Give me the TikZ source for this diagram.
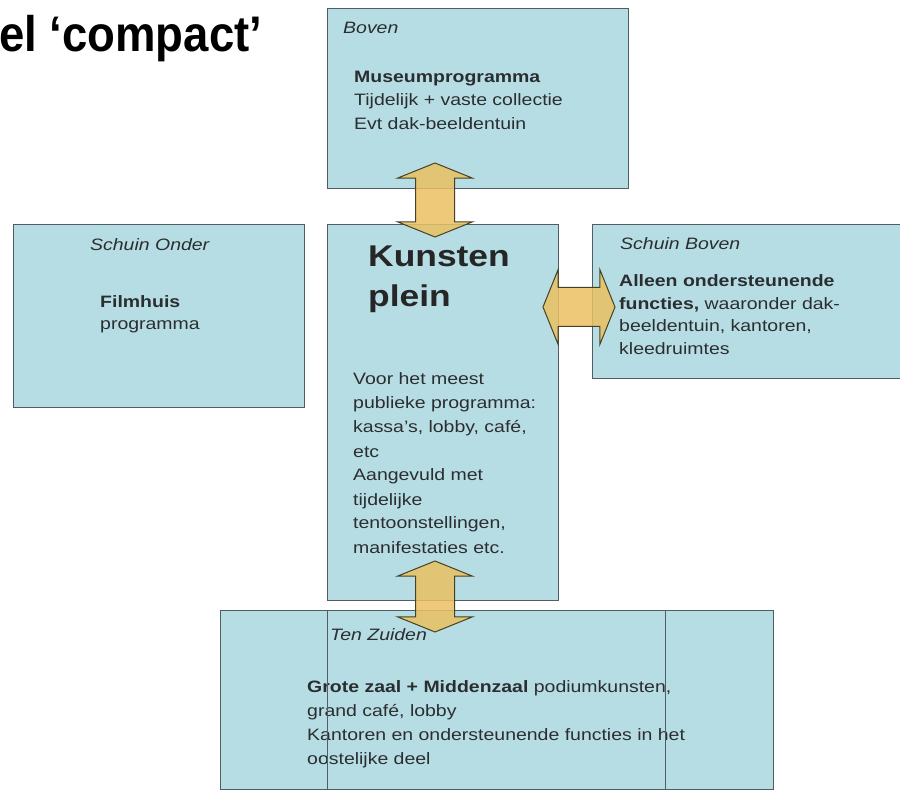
\documentclass[tikz,border=0pt]{standalone}
\usepackage{fontspec}
\usetikzlibrary{shapes.arrows}
\newfontfamily\zonefont[FakeStretch=1.18]{Liberation Sans}
\newfontfamily\titlefont[FakeStretch=0.91]{Liberation Sans}
\definecolor{zonefill}{RGB}{183,221,228}
\definecolor{zoneline}{RGB}{80,94,100}
\definecolor{zoneink}{RGB}{42,46,48}
\definecolor{arrowfill}{RGB}{234,192,98}
\definecolor{arrowline}{RGB}{70,65,35}
\tikzset{
  zone/.style={rectangle, draw=zoneline, line width=1.3pt, fill=zonefill, anchor=north west, inner sep=0pt},
  zonetext/.style={anchor=base west, inner sep=0pt, text=zoneink, font=\zonefont\fontsize{16.5}{20}\selectfont},
  zonelabel/.style={zonetext, font=\zonefont\itshape\fontsize{16.5}{20}\selectfont},
  zonetitle/.style={anchor=base west, inner sep=0pt, text=black!85, font=\zonefont\bfseries\fontsize{30}{36}\selectfont},
  swaparrow/.style={double arrow, draw=arrowline, line width=1pt, fill=arrowfill, fill opacity=0.85,
    minimum height=74pt, inner xsep=0pt, inner ysep=19pt, double arrow head extend=18pt, double arrow tip angle=136}
}

\begin{document}
\begin{tikzpicture}[x=1pt, y=-1pt]
\useasboundingbox (0,0) rectangle (900,791);

% title
\node[anchor=base west, inner sep=0pt, font=\titlefont\bfseries\fontsize{50}{60}\selectfont] (titel) at (-1,52) {el ‘compact’};

% zones
\node[zone, minimum width=301pt, minimum height=180pt] (boven) at (327,8) {};
\node[zone, minimum width=291pt, minimum height=183pt] (schuinOnder) at (13,224) {};
\node[zone, minimum width=231pt, minimum height=376pt] (plein) at (327,224) {};
\node[zone, minimum width=310pt, minimum height=154pt] (schuinBoven) at (592,224) {};
\node[zone, minimum width=553pt, minimum height=179pt] (tenZuiden) at (220,610) {};

% Boven
\node[zonelabel] (bovenLabel) at (343,34) {Boven};
\node[zonetext] (bovenA) at (354,83) {\bfseries Museumprogramma};
\node[zonetext] (bovenB) at (354,106) {Tijdelijk + vaste collectie};
\node[zonetext] (bovenC) at (354,130) {Evt dak-beeldentuin};

% Schuin Onder
\node[zonelabel] (onderLabel) at (90,251) {Schuin Onder};
\node[zonetext] (onderA) at (100,308) {\bfseries Filmhuis};
\node[zonetext] (onderB) at (100,330) {programma};

% Kunstenplein
\node[zonetitle] (pleinA) at (368,267) {Kunsten};
\node[zonetitle] (pleinB) at (368,307) {plein};
\foreach \regel [count=\i] in {Voor het meest, publieke programma:, {kassa’s, lobby, café,}, etc,
    Aangevuld met, tijdelijke, {tentoonstellingen,}, manifestaties etc.}
  \node[zonetext] (pleinRegel\i) at (353,361+24*\i) {\regel};

% Schuin Boven
\node[zonelabel] (bovenSchuinLabel) at (620,250) {Schuin Boven};
\node[zonetext] (schuinA) at (619,287) {\bfseries Alleen ondersteunende};
\node[zonetext] (schuinB) at (619,310) {\textbf{functies,} waaronder dak-};
\node[zonetext] (schuinC) at (619,332) {beeldentuin, kantoren,};
\node[zonetext] (schuinD) at (619,355) {kleedruimtes};

% Ten Zuiden
\node[zonelabel] (zuidLabel) at (330,640) {Ten Zuiden};
\node[zonetext] (zuidA) at (307,692) {\textbf{Grote zaal + Middenzaal} podiumkunsten,};
\node[zonetext] (zuidB) at (307,716) {grand café, lobby};
\node[zonetext] (zuidC) at (307,740) {Kantoren en ondersteunende functies in het};
\node[zonetext] (zuidD) at (307,764) {oostelijke deel};
\node[zone, fill=none, minimum width=338pt, minimum height=179pt] (zuidMidden) at (327,610) {};

% arrows
\node[swaparrow, rotate=90] (pijlBoven) at (435,200) {};
\node[swaparrow, minimum height=72pt] (pijlRechts) at (579,307) {};
\node[swaparrow, rotate=90, minimum height=71pt] (pijlZuid) at (435,596.5) {};

\end{tikzpicture}
\end{document}
